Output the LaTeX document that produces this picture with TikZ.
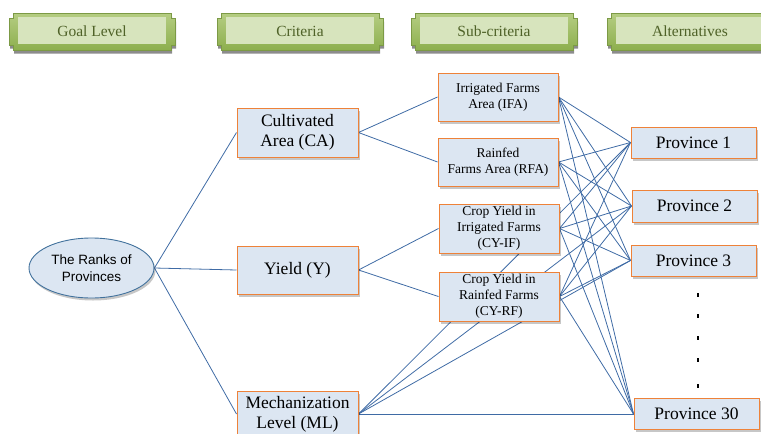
\documentclass[tikz,border=0pt]{standalone}
\usepackage{fontspec}
\setmainfont{Liberation Serif}
\newfontfamily\arialf{Liberation Sans}
\usetikzlibrary{shapes.geometric,shadows,backgrounds}
\definecolor{boxfill}{HTML}{DCE6F2}
\definecolor{boxdraw}{HTML}{EE8239}
\definecolor{linkc}{HTML}{3F6BA5}
\definecolor{ellline}{HTML}{41719C}
\definecolor{hdrtop}{HTML}{B5CD82}
\definecolor{hdrbot}{HTML}{8DAF4E}
\definecolor{hdrline}{HTML}{7C9A45}
\definecolor{hdrin}{HTML}{D7E4BD}
\definecolor{hdrtxt}{HTML}{4F6228}
\tikzset{
  softshadow/.style={drop shadow={shadow xshift=1.5pt,shadow yshift=-2.5pt,opacity=0.22,fill=black}},
  crit/.style={draw=boxdraw,line width=1pt,fill=boxfill,softshadow,minimum width=121pt,inner sep=0pt,align=center,font=\fontsize{17.5}{20}\selectfont},
  sub/.style={draw=boxdraw,line width=1pt,fill=boxfill,softshadow,minimum width=120pt,minimum height=48pt,inner sep=0pt,align=center,font=\fontsize{13.5}{16}\selectfont},
  prov/.style={draw=boxdraw,line width=1pt,fill=boxfill,softshadow,minimum width=125pt,minimum height=31pt,inner sep=0pt,font=\fontsize{17.5}{20}\selectfont},
  link/.style={draw=linkc,line width=0.8pt},
  hdrtext/.style={text=hdrtxt,font=\fontsize{15.5}{18}\selectfont,inner sep=0pt},
  hdr/.pic={
    \path[draw=hdrline,line width=0.8pt,top color=hdrtop,bottom color=hdrbot,
      drop shadow={shadow xshift=1pt,shadow yshift=-3.5pt,opacity=0.45,fill=black}]
      (4,0) -- (162,0) -- (162,5) -- (166,5) -- (166,32) -- (162,32) -- (162,37)
      -- (4,37) -- (4,32) -- (0,32) -- (0,5) -- (4,5) -- cycle;
    \fill[hdrin] (9,4) rectangle (157,31);
    \node[hdrtext] (-t) at (83,18) {#1};
  }
}
\begin{document}
\begin{tikzpicture}[x=1pt,y=-1pt]
\useasboundingbox (0,0) rectangle (761,434);
\clip (0,0) rectangle (761,434);

% headers
\pic (hgoal) at (9,13) {hdr={Goal Level}};
\pic (hcrit) at (217,13) {hdr={Criteria}};
\pic (hsub) at (411,13) {hdr={Sub-criteria}};
\pic (halt) at (607,13) {hdr={Alternatives}};

% goal
\node[ellipse,draw=ellline,line width=0.9pt,fill=boxfill,softshadow,minimum width=125pt,minimum height=60pt,inner sep=0pt,align=center,font=\arialf\fontsize{13.5}{17}\selectfont] (goal) at (91.5,268) {The Ranks of\\Provinces};

% criteria
\node[crit,minimum height=49pt] (ca) at (297.5,132.5) {Cultivated\\Area (CA)};
\node[crit,minimum height=48pt] (y) at (297.5,270) {Yield (Y)};
\node[crit,minimum height=46pt] (ml) at (297.5,414) {Mechanization\\Level (ML)};

% sub-criteria
\node[sub] (ifa) at (498,97) {Irrigated Farms\\Area (IFA)};
\node[sub] (rfa) at (498,162) {Rainfed\\Farms Area (RFA)};
\node[sub,minimum height=49pt] (cyif) at (499,228.5) {Crop Yield in\\Irrigated Farms\\(CY-IF)};
\node[sub,minimum height=49pt] (cyrf) at (499,296.5) {Crop Yield in\\Rainfed Farms\\(CY-RF)};

% alternatives
\node[prov] (p1) at (693.5,142.5) {Province 1};
\node[prov,minimum height=32pt] (p2) at (694.5,206) {Province 2};
\node[prov] (p3) at (693.5,260.5) {Province 3};
\node[prov] (p30) at (696.5,414) {Province 30};

% dots
\foreach \yy in {295,316,338,360,386}
  \draw[line width=1.2pt] (698,\yy-2) -- (698,\yy+2);

\begin{pgfonlayer}{background}
  \foreach \c in {ca,y,ml} \draw[link] (goal.east) -- (\c.west);
  \foreach \s in {ifa,rfa} \draw[link] (ca.east) -- (\s.west);
  \foreach \s in {cyif,cyrf} \draw[link] (y.east) -- (\s.west);
  \foreach \s in {ifa,rfa,cyif,cyrf,ml}
    \foreach \p in {p1,p2,p3,p30}
      \draw[link] (\s.east) -- (\p.west);
\end{pgfonlayer}
\end{tikzpicture}
\end{document}
